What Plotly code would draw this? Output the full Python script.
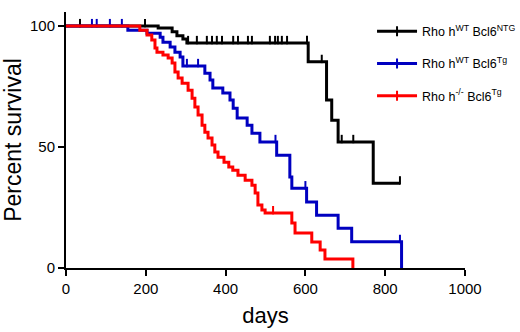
import plotly.graph_objects as go

# Kaplan-Meier step data (days, percent survival after each step)
black_t = [0, 231, 266, 278, 293, 303, 607, 653, 666, 682, 770, 837]
black_s = [100, 99.2, 97.6, 96.0, 94.6, 93.0, 85.2, 69.4, 61.1, 52.1, 35.0, 35.0]
black_cens = [35, 198, 306, 328, 353, 366, 378, 391, 419, 431, 456, 466, 511, 524, 531, 541, 554, 604, 641, 691, 720, 837]

blue_t = [0, 155, 203, 236, 243, 261, 273, 286, 293, 348, 361, 368, 393, 411, 419, 429,
          454, 466, 486, 528, 561, 566, 603, 628, 682, 716, 841]
blue_s = [100, 98.3, 97.0, 95.4, 93.3, 91.3, 89.2, 87.2, 83.5, 80.5, 77.7, 74.4, 72.3, 69.4, 66.0, 62.0,
          59.0, 55.7, 52.1, 46.6, 37.6, 33.0, 27.3, 21.8, 16.4, 10.8, 0]
blue_cens = [65, 77, 110, 140, 303, 331, 525, 600, 837]

red_t = [0, 185, 203, 215, 223, 228, 243, 256, 266, 273, 281, 291, 306, 316, 323, 331, 341, 348,
         356, 366, 373, 381, 396, 408, 418, 431, 449, 466, 474, 481, 491, 499, 566, 574, 616, 637, 649, 719]
red_s = [100, 98.3, 96.3, 94.2, 90.9, 89.2, 88.0, 86.8, 84.7, 81.0, 78.5, 76.4, 73.5, 70.2, 66.5, 63.2, 59.0, 56.1,
         53.7, 50.8, 47.9, 45.8, 43.7, 41.7, 40.4, 38.3, 36.3, 34.2, 31.0, 26.0, 24.0, 22.7, 18.6, 14.5, 10.7, 7.4, 3.7, 0]
red_cens = [519]

names = ["Rho h<sup>WT</sup> Bcl6<sup>NTG</sup>",
         "Rho h<sup>WT</sup> Bcl6<sup>Tg</sup>",
         "Rho h<sup>-/-</sup> Bcl6<sup>Tg</sup>"]
colors = ["#000000", "#0000C0", "#FF0000"]


def level_at(ts, ss, t):
    v = ss[0]
    for ti, si in zip(ts, ss):
        if ti <= t:
            v = si
    return v


fig = go.Figure()
series = [(black_t, black_s, black_cens), (blue_t, blue_s, blue_cens), (red_t, red_s, red_cens)]
for (ts, ss, cs), name, col in zip(series, names, colors):
    fig.add_trace(go.Scatter(x=ts, y=ss, mode="lines", line=dict(color=col, width=3, shape="hv"),
                             showlegend=False, hoverinfo="skip"))
    fig.add_trace(go.Scatter(x=cs, y=[level_at(ts, ss, c) + 1.2 for c in cs], mode="markers",
                             marker=dict(symbol="line-ns", size=6, line=dict(color=col, width=2)),
                             showlegend=False, hoverinfo="skip"))

for i, (name, col) in enumerate(zip(names, colors)):
    fig.add_trace(go.Scatter(x=[None], y=[None], mode="lines+markers", name=name,
                             legendgroup=str(i),
                             line=dict(color=col, width=3),
                             marker=dict(symbol="line-ns", size=7, line=dict(color=col, width=2))))

font_fam = "Liberation Sans, Arial, sans-serif"
fig.update_layout(
    width=520, height=332, autosize=False,
    margin=dict(l=66, r=55, t=12, b=64, autoexpand=False),
    paper_bgcolor="white", plot_bgcolor="white",
    font=dict(family=font_fam, color="black", size=15),
    legend=dict(x=0.767, y=0.982, xanchor="left", yanchor="top", bgcolor="rgba(0,0,0,0)",
                font=dict(size=12.5, family=font_fam), traceorder="grouped", tracegroupgap=13,
                itemwidth=40),
    xaxis=dict(range=[0, 1000], tickvals=[0, 200, 400, 600, 800, 1000], showgrid=False, zeroline=False,
               showline=True, linecolor="black", linewidth=2, ticks="outside", ticklen=6, tickwidth=2,
               tickcolor="black", tickfont=dict(size=15), automargin=False,
               title=dict(text="days", font=dict(size=22), standoff=12)),
    yaxis=dict(range=[0, 105.8], tickvals=[0, 50, 100], showgrid=False, zeroline=False,
               showline=True, linecolor="black", linewidth=2, ticks="outside", ticklen=6, tickwidth=2,
               tickcolor="black", tickfont=dict(size=15), automargin=False,
               title=dict(text="Percent survival", font=dict(size=23), standoff=6)),
)

fig.write_html("out.html", config={"responsive": False, "displayModeBar": False},
               post_script="document.body.style.margin='0px';document.body.style.overflow='hidden';")
